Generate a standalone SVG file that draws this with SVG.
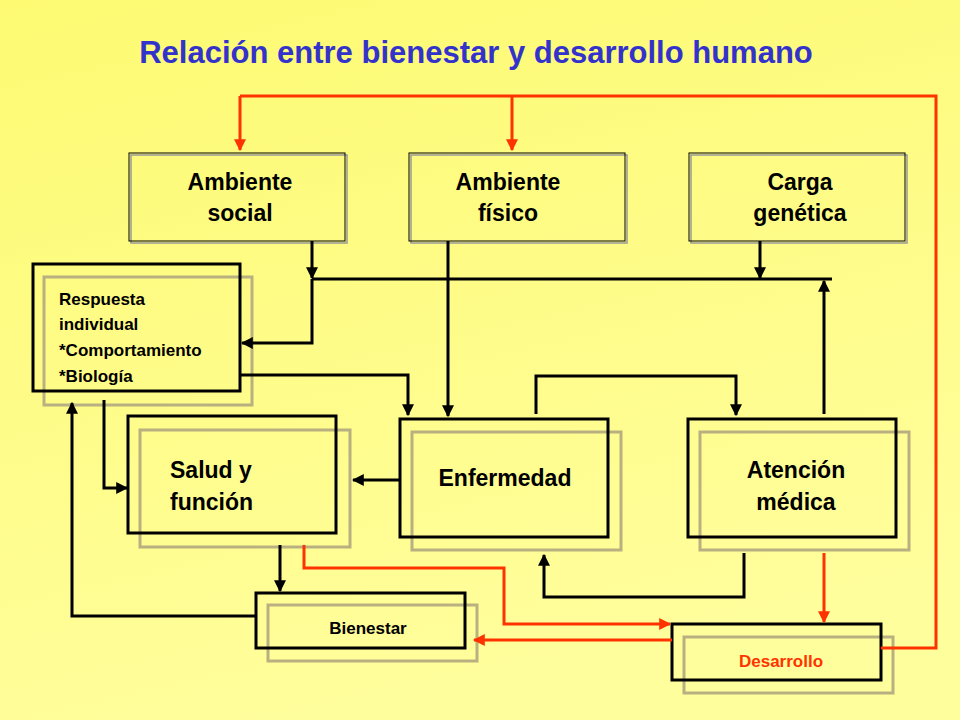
<svg xmlns="http://www.w3.org/2000/svg" width="960" height="720" viewBox="0 0 960 720">
<defs>
<linearGradient id="bg" x1="0" y1="0" x2="0.3" y2="1"><stop offset="0" stop-color="#fdfa72"/><stop offset="1" stop-color="#fffe9c"/></linearGradient>
<marker id="ab" viewBox="0 0 10 10" refX="9" refY="5" markerWidth="4" markerHeight="4" orient="auto" markerUnits="strokeWidth"><path d="M0,0L10,5L0,10z" fill="#000"/></marker>
<marker id="ar" viewBox="0 0 10 10" refX="9" refY="5" markerWidth="4" markerHeight="4" orient="auto" markerUnits="strokeWidth"><path d="M0,0L10,5L0,10z" fill="#ff3300"/></marker>
</defs>
<style>
text{font-family:"Liberation Sans",Arial,sans-serif;font-weight:bold;fill:#000}
.t{font-size:23px;text-anchor:middle}
.s{font-size:17px}
.top{fill:none;stroke:#000;stroke-width:1}
.tsh{fill:none;stroke:#999;stroke-width:1.5}
.bx{fill:none;stroke:#000;stroke-width:3}
.sh{fill:none;stroke:#b8b080;stroke-width:3}
.k{fill:none;stroke:#000;stroke-width:3;marker-end:url(#ab)}
.kl{fill:none;stroke:#000;stroke-width:3}
.r{fill:none;stroke:#ff3300;stroke-width:3;marker-end:url(#ar)}
.rl{fill:none;stroke:#ff3300;stroke-width:3}
</style>
<rect width="960" height="720" fill="url(#bg)"/>
<text x="476" y="63" text-anchor="middle" style="font-size:31px;fill:#3333cc">Relación entre bienestar y desarrollo humano</text>
<g id="ambiente-social"><rect class="tsh" x="131" y="155" width="216" height="88"/><rect class="top" x="129" y="153" width="216" height="88"/><text class="t" x="240" y="190">Ambiente</text><text class="t" x="240" y="221">social</text></g>
<g id="ambiente-fisico"><rect class="tsh" x="411" y="155" width="216" height="88"/><rect class="top" x="409" y="153" width="216" height="88"/><text class="t" x="508" y="190">Ambiente</text><text class="t" x="508" y="221">físico</text></g>
<g id="carga-genetica"><rect class="tsh" x="691" y="155" width="216" height="88"/><rect class="top" x="689" y="153" width="216" height="88"/><text class="t" x="800" y="190">Carga</text><text class="t" x="800" y="221">genética</text></g>
<g id="respuesta"><rect class="sh" x="44" y="277" width="208" height="128"/><rect class="bx" x="33" y="264" width="207" height="127"/><text class="s" x="59" y="305">Respuesta</text><text class="s" x="59" y="330">individual</text><text class="s" x="59" y="356">*Comportamiento</text><text class="s" x="59" y="382">*Biología</text></g>
<g id="salud"><rect class="sh" x="140" y="430" width="210" height="117"/><rect class="bx" x="128" y="416" width="208" height="117"/><text class="t" x="170" y="478" text-anchor="start" style="text-anchor:start">Salud y</text><text class="t" x="170" y="510" style="text-anchor:start">función</text></g>
<g id="enfermedad"><rect class="sh" x="412" y="432" width="209" height="118"/><rect class="bx" x="400" y="419" width="208" height="118"/><text class="t" x="505" y="486">Enfermedad</text></g>
<g id="atencion"><rect class="sh" x="700" y="432" width="209" height="118"/><rect class="bx" x="688" y="419" width="208" height="118"/><text class="t" x="796" y="478">Atención</text><text class="t" x="796" y="510">médica</text></g>
<g id="bienestar"><rect class="sh" x="268" y="605" width="209" height="56"/><rect class="bx" x="256" y="593" width="209" height="55"/><text class="s" x="368" y="634" text-anchor="middle">Bienestar</text></g>
<g id="desarrollo"><rect class="sh" x="684" y="637" width="209" height="56"/><rect class="bx" x="672" y="624" width="209" height="56"/><text class="s" x="781" y="667" text-anchor="middle" style="fill:#ff3300">Desarrollo</text></g>
<g id="connectors">
<path class="k" d="M312,241V278"/>
<path class="kl" d="M312,279H832"/>
<path class="k" d="M312,279V343H242"/>
<path class="k" d="M448,241V416"/>
<path class="k" d="M760,241V278"/>
<path class="k" d="M824,414V281"/>
<path class="k" d="M240,375H408V415"/>
<path class="k" d="M536,414V376H736V415"/>
<path class="k" d="M400,480H353"/>
<path class="k" d="M104,400V488H127"/>
<path class="k" d="M280,545V591"/>
<path class="k" d="M256,616H72V403"/>
<path class="k" d="M744,553V597H544V555"/>
<path class="rl" d="M240,96H936V648H881"/>
<path class="r" d="M240,96V150"/>
<path class="r" d="M512,96V150"/>
<path class="r" d="M304,545V568H504V624H670"/>
<path class="r" d="M672,640H474"/>
<path class="r" d="M824,553V622"/>
</g>
</svg>
